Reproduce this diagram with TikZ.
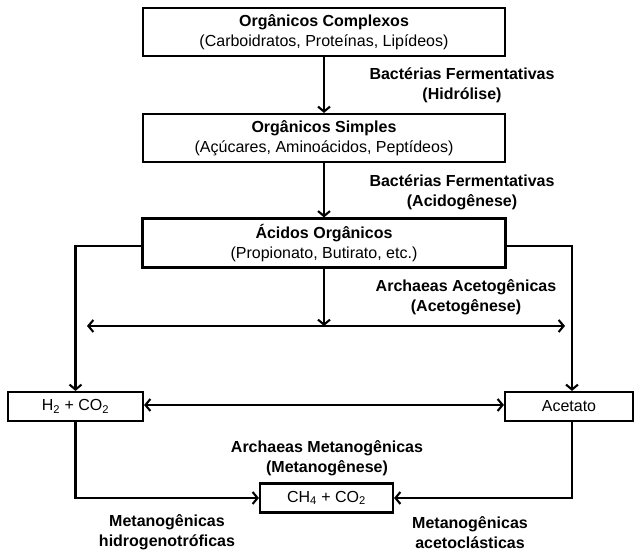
\documentclass[tikz,border=0pt]{standalone}
\usepackage{fontspec}
\setmainfont{Liberation Sans}
\usepackage{tikz}
\usetikzlibrary{arrows.meta}
\usetikzlibrary{positioning, calc}

\begin{document}
\begin{tikzpicture}[x=1pt, y=1pt,
    font=\fontsize{16pt}{20pt}\selectfont,
    caixa/.style={draw, line width=2.1pt, inner sep=0pt, align=center},
    seta/.style={line width=2.1pt, -{Straight Barb[length=5pt, width=12pt]}},
    setadupla/.style={line width=2.1pt, {Straight Barb[length=5pt, width=12pt]}-{Straight Barb[length=5pt, width=12pt]}},
    rotulo/.style={align=center, font=\fontsize{16pt}{20pt}\selectfont\bfseries}]
    \useasboundingbox (0,0) rectangle (635,553);
    % etapas principais
    \node [caixa, minimum width=362pt, minimum height=48pt] (complexos) at (324,521)
        {\textbf{Orgânicos Complexos}\\(Carboidratos, Proteínas, Lipídeos)};
    \node [caixa, minimum width=362pt, minimum height=48pt] (simples) at (324,415)
        {\textbf{Orgânicos Simples}\\(Açúcares, Aminoácidos, Peptídeos)};
    \node [caixa, minimum width=363pt, minimum height=49pt] (acidos) at (324,310)
        {\textbf{Ácidos Orgânicos}\\(Propionato, Butirato, etc.)};
    \node [caixa, minimum width=135pt, minimum height=29pt] (h2) at (75.5,146.5)
        {H\textsubscript{2} + CO\textsubscript{2}};
    \node [caixa, minimum width=128pt, minimum height=29pt] (acetato) at (569,146.5) {Acetato};
    \node [caixa, minimum width=133pt, minimum height=29pt] (ch4) at (326.5,55)
        {CH\textsubscript{4} + CO\textsubscript{2}};
    % rotulos dos processos
    \node [rotulo] (hidrolise) at (462,468) {Bactérias Fermentativas\\(Hidrólise)};
    \node [rotulo] (acidogenese) at (462,361) {Bactérias Fermentativas\\(Acidogênese)};
    \node [rotulo] (acetogenese) at (466,256) {Archaeas Acetogênicas\\(Acetogênese)};
    \node [rotulo] (metanogenese) at (327,95) {Archaeas Metanogênicas\\(Metanogênese)};
    \node [rotulo] (hidrogeno) at (167,20.5) {Metanogênicas\\hidrogenotróficas};
    \node [rotulo] (acetoclast) at (470,20.5) {Metanogênicas\\acetoclásticas};
    % linha horizontal da acetogenese
    \coordinate (hl) at (87,227);
    \coordinate (hr) at (565,227);

    \draw [seta] (complexos) -- (simples);
    \draw [seta] (simples) -- (acidos);
    \draw [seta] (acidos.south) -- (acidos.south |- hl);
    \draw [setadupla] (hl) -- (hr);
    \draw [seta] ([yshift=-3pt]acidos.west) -| (h2.north);
    \draw [seta] ([yshift=-3pt]acidos.east) -| ([xshift=3pt]acetato.north);
    \draw [setadupla] ([yshift=1.5pt]h2.east) -- ([yshift=1.5pt]h2.east -| acetato.west);
    \draw [seta] (h2.south) |- (ch4.west);
    \draw [seta] ([xshift=3pt]acetato.south) |- (ch4.east);
\end{tikzpicture}
\end{document}
